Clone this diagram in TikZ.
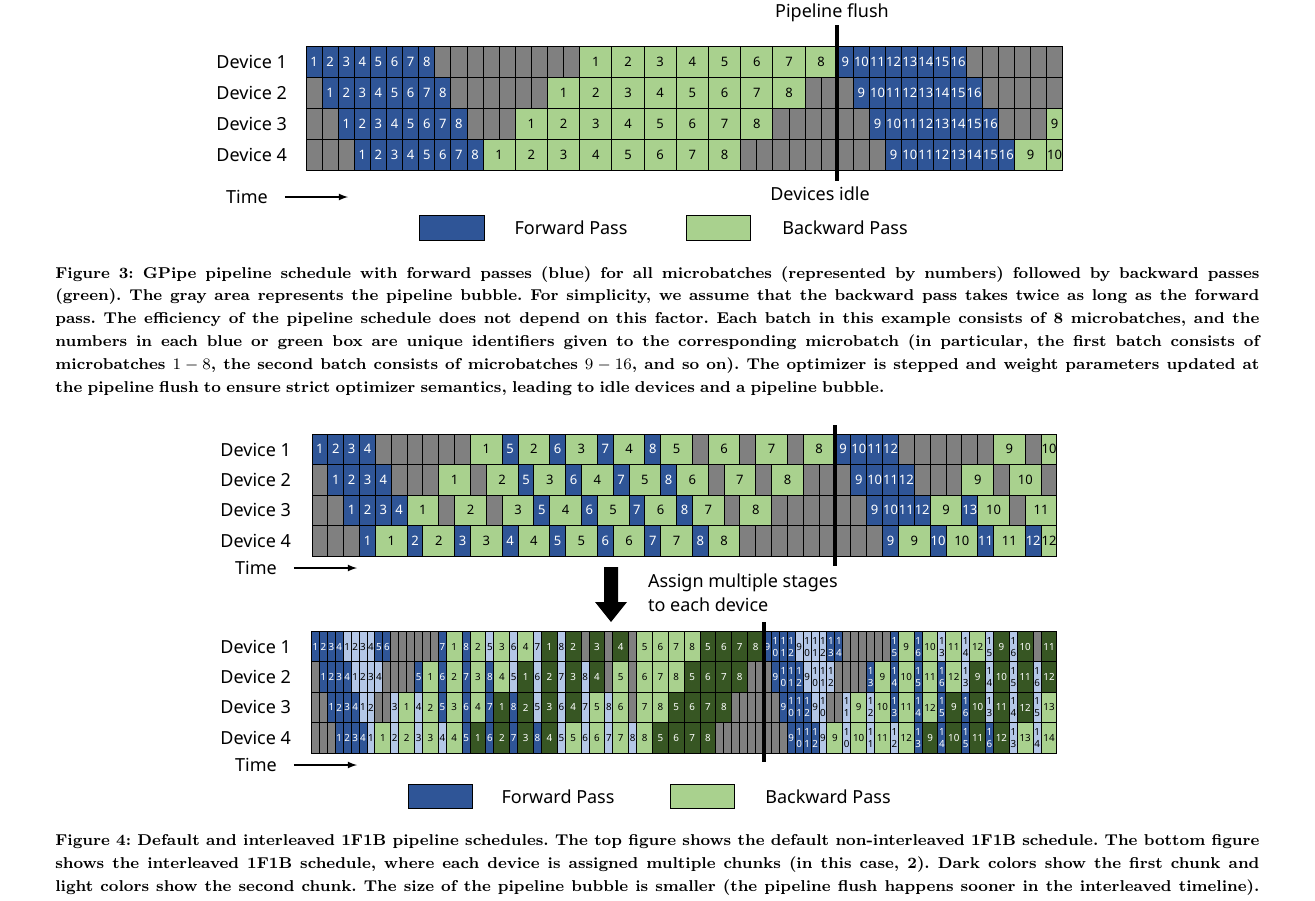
\documentclass[tikz,border=0pt]{standalone}
\usepackage{fontspec}
\newfontfamily\diafont{Noto Sans}
\definecolor{fwdblue}{HTML}{2F5597}
\definecolor{fwdlight}{HTML}{B4C7E7}
\definecolor{bwdgreen}{HTML}{A9D18E}
\definecolor{bwddark}{HTML}{375623}
\definecolor{idlegray}{HTML}{808080}
\tikzset{
  cell/.style={draw=black, line width=0.5pt},
  idle/.style={cell, fill=idlegray},
  fwd/.style={cell, fill=fwdblue, text=white},
  fwdlt/.style={cell, fill=fwdlight, text=black},
  bwd/.style={cell, fill=bwdgreen, text=black},
  bwddk/.style={cell, fill=bwddark, text=white},
  lbl/.style={font=\diafont\fontsize{9}{12}\selectfont},
  dev/.style={lbl, anchor=east},
  flush/.style={line width=2pt},
  timeline/.style={line width=0.6pt, -{latex}},
  capt/.style={anchor=north west, inner sep=0pt, text width=602pt,
    font=\fontsize{7.85}{11.4}\selectfont\bfseries},
}
% one job of the schedule: start, length, style, label (row in \row)
\newcommand{\job}[4]{\draw[#3] (#1,\row) rectangle ++(#2,1) node[midway] (\fig-\row-#1) {#4};}
\newcommand{\capline}[1]{\hbox to\hsize{\frenchspacing\spaceskip=.36em plus .6em minus .12em\relax #1}}

\begin{document}
\begin{tikzpicture}[x=0.5pt, y=-0.5pt]
  \useasboundingbox[fill=white] (0,0) rectangle (1315,900);

  %% GPipe schedule
  \begin{scope}[shift={(306,46)}, x=8.05pt, y=-15.5pt, font=\diafont\fontsize{6.5}{7}\selectfont]
    \def\fig{gp}
    \foreach \row in {0,...,3}
      \foreach \s in {0,...,46}
        \draw[idle] (\s,\row) rectangle ++(1,1);
    \foreach \row/\fa/\ba/\na in {0/0/17/33, 1/1/15/34, 2/2/13/35, 3/3/11/36}
      \foreach \i in {1,...,8} {
        \pgfmathtruncatemacro\fs{\fa+\i-1}
        \pgfmathtruncatemacro\bs{\ba+2*\i-2}
        \pgfmathtruncatemacro\ns{\na+\i-1}
        \pgfmathtruncatemacro\nj{\i+8}
        \job{\fs}{1}{fwd}{\i}
        \job{\bs}{2}{bwd}{\i}
        \job{\ns}{1}{fwd}{\nj}
      }
    \def\row{2}
    \job{46}{1}{bwd}{9}
    \def\row{3}
    \job{44}{2}{bwd}{9}
    \job{46}{1}{bwd}{10}
  \end{scope}
  \foreach \i/\y in {1/61.5, 2/92.5, 3/123.5, 4/154.5}
    \node[dev] (gpdev\i) at (294,\y) {Device \i};
  \node[lbl] (gpflush) at (832,13) {Pipeline flush};
  \node[lbl] (gpidle) at (820,194) {Devices idle};
  \coordinate (gpflushtop) at (837,25);
  \coordinate (gpflushbot) at (837,181);
  \draw[flush] (gpflushtop) -- (gpflushbot);
  \node[lbl] (gptime) at (247,197) {Time};
  \coordinate (gptimeend) at (348,197);
  \draw[timeline] ([xshift=5pt]gptime.east) -- (gptimeend);
  \draw[fwd] (419,215) rectangle (484,240);
  \node[lbl] (gpfwd) at (571,227.5) {Forward Pass};
  \draw[bwd] (686,215) rectangle (750,240);
  \node[lbl] (gpbwd) at (845,227.5) {Backward Pass};

  \node[capt] (cap3) at (55,266) {%
\capline{Figure 3: GPipe pipeline schedule with forward passes (blue) for all microbatches (represented by numbers) followed by backward passes}
\capline{(green). The gray area represents the pipeline bubble. For simplicity, we assume that the backward pass takes twice as long as the forward}
\capline{pass. The efficiency of the pipeline schedule does not depend on this factor. Each batch in this example consists of 8 microbatches, and the}
\capline{numbers in each blue or green box are unique identifiers given to the corresponding microbatch (in particular, the first batch consists of}
\capline{microbatches $1-8$, the second batch consists of microbatches $9-16$, and so on). The optimizer is stepped and weight parameters updated at}
\hbox{\frenchspacing the pipeline flush to ensure strict optimizer semantics, leading to idle devices and a pipeline bubble.}};

  %% default 1F1B schedule
  \begin{scope}[shift={(312,434)}, x=7.925pt, y=-15.25pt, font=\diafont\fontsize{6.5}{7}\selectfont]
    \def\fig{of}
    \foreach \row in {0,...,3}
      \foreach \s in {0,...,46}
        \draw[idle] (\s,\row) rectangle ++(1,1);
    \def\row{0}
    \foreach \s/\w/\k/\lbl in {0/1/fwd/1, 1/1/fwd/2, 2/1/fwd/3, 3/1/fwd/4, 10/2/bwd/1, 12/1/fwd/5, 13/2/bwd/2, 15/1/fwd/6, 16/2/bwd/3, 18/1/fwd/7, 19/2/bwd/4, 21/1/fwd/8, 22/2/bwd/5, 25/2/bwd/6, 28/2/bwd/7, 31/2/bwd/8, 33/1/fwd/9, 34/1/fwd/10, 35/1/fwd/11, 36/1/fwd/12, 43/2/bwd/9, 46/1/bwd/10}
      {\job{\s}{\w}{\k}{\lbl}}
    \def\row{1}
    \foreach \s/\w/\k/\lbl in {1/1/fwd/1, 2/1/fwd/2, 3/1/fwd/3, 4/1/fwd/4, 8/2/bwd/1, 11/2/bwd/2, 13/1/fwd/5, 14/2/bwd/3, 16/1/fwd/6, 17/2/bwd/4, 19/1/fwd/7, 20/2/bwd/5, 22/1/fwd/8, 23/2/bwd/6, 26/2/bwd/7, 29/2/bwd/8, 34/1/fwd/9, 35/1/fwd/10, 36/1/fwd/11, 37/1/fwd/12, 41/2/bwd/9, 44/2/bwd/10}
      {\job{\s}{\w}{\k}{\lbl}}
    \def\row{2}
    \foreach \s/\w/\k/\lbl in {2/1/fwd/1, 3/1/fwd/2, 4/1/fwd/3, 5/1/fwd/4, 6/2/bwd/1, 9/2/bwd/2, 12/2/bwd/3, 14/1/fwd/5, 15/2/bwd/4, 17/1/fwd/6, 18/2/bwd/5, 20/1/fwd/7, 21/2/bwd/6, 23/1/fwd/8, 24/2/bwd/7, 27/2/bwd/8, 35/1/fwd/9, 36/1/fwd/10, 37/1/fwd/11, 38/1/fwd/12, 39/2/bwd/9, 41/1/fwd/13, 42/2/bwd/10, 45/2/bwd/11}
      {\job{\s}{\w}{\k}{\lbl}}
    \def\row{3}
    \foreach \s/\w/\k/\lbl in {3/1/fwd/1, 4/2/bwd/1, 6/1/fwd/2, 7/2/bwd/2, 9/1/fwd/3, 10/2/bwd/3, 12/1/fwd/4, 13/2/bwd/4, 15/1/fwd/5, 16/2/bwd/5, 18/1/fwd/6, 19/2/bwd/6, 21/1/fwd/7, 22/2/bwd/7, 24/1/fwd/8, 25/2/bwd/8, 36/1/fwd/9, 37/2/bwd/9, 39/1/fwd/10, 40/2/bwd/10, 42/1/fwd/11, 43/2/bwd/11, 45/1/fwd/12, 46/1/bwd/12}
      {\job{\s}{\w}{\k}{\lbl}}
  \end{scope}
  \foreach \i/\y in {1/449.5, 2/480, 3/510, 4/541}
    \node[dev] (ofdev\i) at (298,\y) {Device \i};
  \coordinate (offlushtop) at (835,425);
  \coordinate (offlushbot) at (835,566);
  \draw[flush] (offlushtop) -- (offlushbot);
  \node[lbl] (oftime) at (256,568) {Time};
  \coordinate (oftimeend) at (357,568);
  \draw[timeline] ([xshift=5pt]oftime.east) -- (oftimeend);

  % stages per device
  \fill (604,567) -- (618,567) -- (618,602) -- (627,602) -- (611,622) -- (595,602) -- (604,602) -- cycle;
  \node[lbl, anchor=west, align=left] (assign) at (641,593) {Assign multiple stages\\to each device};

  %% interleaved 1F1B schedule
  \begin{scope}[shift={(311.5,631.5)}, x=3.965pt, y=-15.19pt, font=\diafont\fontsize{4.9}{6}\selectfont, nodes={align=center, inner sep=0pt}]
    \def\fig{il}
    \foreach \row in {0,...,3}
      \foreach \s in {0,...,93}
        \draw[idle] (\s,\row) rectangle ++(1,1);
    \def\row{0}
    \foreach \s/\w/\k/\lbl in {0/1/fwd/1, 1/1/fwd/2, 2/1/fwd/3, 3/1/fwd/4, 4/1/fwdlt/1, 5/1/fwdlt/2, 6/1/fwdlt/3, 7/1/fwdlt/4, 8/1/fwd/5, 9/1/fwd/6, 16/1/fwd/7, 17/2/bwd/1, 19/1/fwd/8, 20/2/bwd/2, 22/1/fwdlt/5, 23/2/bwd/3, 25/1/fwdlt/6, 26/2/bwd/4, 28/1/fwdlt/7, 29/2/bwddk/1, 31/1/fwdlt/8, 32/2/bwddk/2, 35/2/bwddk/3, 38/2/bwddk/4, 41/2/bwd/5, 43/2/bwd/6, 45/2/bwd/7, 47/2/bwd/8, 49/2/bwddk/5, 51/2/bwddk/6, 53/2/bwddk/7, 55/2/bwddk/8, 57/1/fwd/9, 58/1/fwd/{1\\0}, 59/1/fwd/{1\\1}, 60/1/fwd/{1\\2}, 61/1/fwdlt/9, 62/1/fwdlt/{1\\0}, 63/1/fwdlt/{1\\1}, 64/1/fwdlt/{1\\2}, 65/1/fwd/{1\\3}, 66/1/fwd/{1\\4}, 73/1/fwd/{1\\5}, 74/2/bwd/9, 76/1/fwd/{1\\6}, 77/2/bwd/10, 79/1/fwdlt/{1\\3}, 80/2/bwd/11, 82/1/fwdlt/{1\\4}, 83/2/bwd/12, 85/1/fwdlt/{1\\5}, 86/2/bwddk/9, 88/1/fwdlt/{1\\6}, 89/2/bwddk/10, 92/2/bwddk/11}
      {\job{\s}{\w}{\k}{\lbl}}
    \def\row{1}
    \foreach \s/\w/\k/\lbl in {1/1/fwd/1, 2/1/fwd/2, 3/1/fwd/3, 4/1/fwd/4, 5/1/fwdlt/1, 6/1/fwdlt/2, 7/1/fwdlt/3, 8/1/fwdlt/4, 13/1/fwd/5, 14/2/bwd/1, 16/1/fwd/6, 17/2/bwd/2, 19/1/fwd/7, 20/2/bwd/3, 22/1/fwd/8, 23/2/bwd/4, 25/1/fwdlt/5, 26/2/bwddk/1, 28/1/fwdlt/6, 29/2/bwddk/2, 31/1/fwdlt/7, 32/2/bwddk/3, 34/1/fwdlt/8, 35/2/bwddk/4, 38/2/bwd/5, 41/2/bwd/6, 43/2/bwd/7, 45/2/bwd/8, 47/2/bwddk/5, 49/2/bwddk/6, 51/2/bwddk/7, 53/2/bwddk/8, 58/1/fwd/9, 59/1/fwd/{1\\0}, 60/1/fwd/{1\\1}, 61/1/fwd/{1\\2}, 62/1/fwdlt/9, 63/1/fwdlt/{1\\0}, 64/1/fwdlt/{1\\1}, 65/1/fwdlt/{1\\2}, 70/1/fwd/{1\\3}, 71/2/bwd/9, 73/1/fwd/{1\\4}, 74/2/bwd/10, 76/1/fwd/{1\\5}, 77/2/bwd/11, 79/1/fwd/{1\\6}, 80/2/bwd/12, 82/1/fwdlt/{1\\3}, 83/2/bwddk/9, 85/1/fwdlt/{1\\4}, 86/2/bwddk/10, 88/1/fwdlt/{1\\5}, 89/2/bwddk/11, 91/1/fwdlt/{1\\6}, 92/2/bwddk/12}
      {\job{\s}{\w}{\k}{\lbl}}
    \def\row{2}
    \foreach \s/\w/\k/\lbl in {2/1/fwd/1, 3/1/fwd/2, 4/1/fwd/3, 5/1/fwd/4, 6/1/fwdlt/1, 7/1/fwdlt/2, 10/1/fwdlt/3, 11/2/bwd/1, 13/1/fwdlt/4, 14/2/bwd/2, 16/1/fwd/5, 17/2/bwd/3, 19/1/fwd/6, 20/2/bwd/4, 22/1/fwd/7, 23/2/bwddk/1, 25/1/fwd/8, 26/2/bwddk/2, 28/1/fwdlt/5, 29/2/bwddk/3, 31/1/fwdlt/6, 32/2/bwddk/4, 34/1/fwdlt/7, 35/2/bwd/5, 37/1/fwdlt/8, 38/2/bwd/6, 41/2/bwd/7, 43/2/bwd/8, 45/2/bwddk/5, 47/2/bwddk/6, 49/2/bwddk/7, 51/2/bwddk/8, 59/1/fwd/9, 60/1/fwd/{1\\0}, 61/1/fwd/{1\\1}, 62/1/fwd/{1\\2}, 63/1/fwdlt/9, 64/1/fwdlt/{1\\0}, 67/1/fwdlt/{1\\1}, 68/2/bwd/9, 70/1/fwdlt/{1\\2}, 71/2/bwd/10, 73/1/fwd/{1\\3}, 74/2/bwd/11, 76/1/fwd/{1\\4}, 77/2/bwd/12, 79/1/fwd/{1\\5}, 80/2/bwddk/9, 82/1/fwd/{1\\6}, 83/2/bwddk/10, 85/1/fwdlt/{1\\3}, 86/2/bwddk/11, 88/1/fwdlt/{1\\4}, 89/2/bwddk/12, 91/1/fwdlt/{1\\5}, 92/2/bwd/13}
      {\job{\s}{\w}{\k}{\lbl}}
    \def\row{3}
    \foreach \s/\w/\k/\lbl in {3/1/fwd/1, 4/1/fwd/2, 5/1/fwd/3, 6/1/fwd/4, 7/1/fwdlt/1, 8/2/bwd/1, 10/1/fwdlt/2, 11/2/bwd/2, 13/1/fwdlt/3, 14/2/bwd/3, 16/1/fwdlt/4, 17/2/bwd/4, 19/1/fwd/5, 20/2/bwddk/1, 22/1/fwd/6, 23/2/bwddk/2, 25/1/fwd/7, 26/2/bwddk/3, 28/1/fwd/8, 29/2/bwddk/4, 31/1/fwdlt/5, 32/2/bwd/5, 34/1/fwdlt/6, 35/2/bwd/6, 37/1/fwdlt/7, 38/2/bwd/7, 40/1/fwdlt/8, 41/2/bwd/8, 43/2/bwddk/5, 45/2/bwddk/6, 47/2/bwddk/7, 49/2/bwddk/8, 60/1/fwd/9, 61/1/fwd/{1\\0}, 62/1/fwd/{1\\1}, 63/1/fwd/{1\\2}, 64/1/fwdlt/9, 65/2/bwd/9, 67/1/fwdlt/{1\\0}, 68/2/bwd/10, 70/1/fwdlt/{1\\1}, 71/2/bwd/11, 73/1/fwdlt/{1\\2}, 74/2/bwd/12, 76/1/fwd/{1\\3}, 77/2/bwddk/9, 79/1/fwd/{1\\4}, 80/2/bwddk/10, 82/1/fwd/{1\\5}, 83/2/bwddk/11, 85/1/fwd/{1\\6}, 86/2/bwddk/12, 88/1/fwdlt/{1\\3}, 89/2/bwd/13, 91/1/fwdlt/{1\\4}, 92/2/bwd/14}
      {\job{\s}{\w}{\k}{\lbl}}
  \end{scope}
  \foreach \i/\y in {1/646.5, 2/677, 3/707, 4/737.5}
    \node[dev] (ildev\i) at (298,\y) {Device \i};
  \coordinate (ilflushtop) at (763.5,622);
  \coordinate (ilflushbot) at (763.5,762);
  \draw[flush] (ilflushtop) -- (ilflushbot);
  \node[lbl] (iltime) at (256,765) {Time};
  \coordinate (iltimeend) at (357,765);
  \draw[timeline] ([xshift=5pt]iltime.east) -- (iltimeend);
  \draw[fwd] (408,784) rectangle (472,808);
  \node[lbl] (ilfwd) at (558,796.5) {Forward Pass};
  \draw[bwd] (670,784) rectangle (734,808);
  \node[lbl] (ilbwd) at (828,796.5) {Backward Pass};

  \node[capt] (cap4) at (55,834) {%
\capline{Figure 4: Default and interleaved 1F1B pipeline schedules. The top figure shows the default non-interleaved 1F1B schedule. The bottom figure}
\capline{shows the interleaved 1F1B schedule, where each device is assigned multiple chunks (in this case, 2). Dark colors show the first chunk and}
\capline{light colors show the second chunk. The size of the pipeline bubble is smaller (the pipeline flush happens sooner in the interleaved timeline).}};
\end{tikzpicture}
\end{document}
